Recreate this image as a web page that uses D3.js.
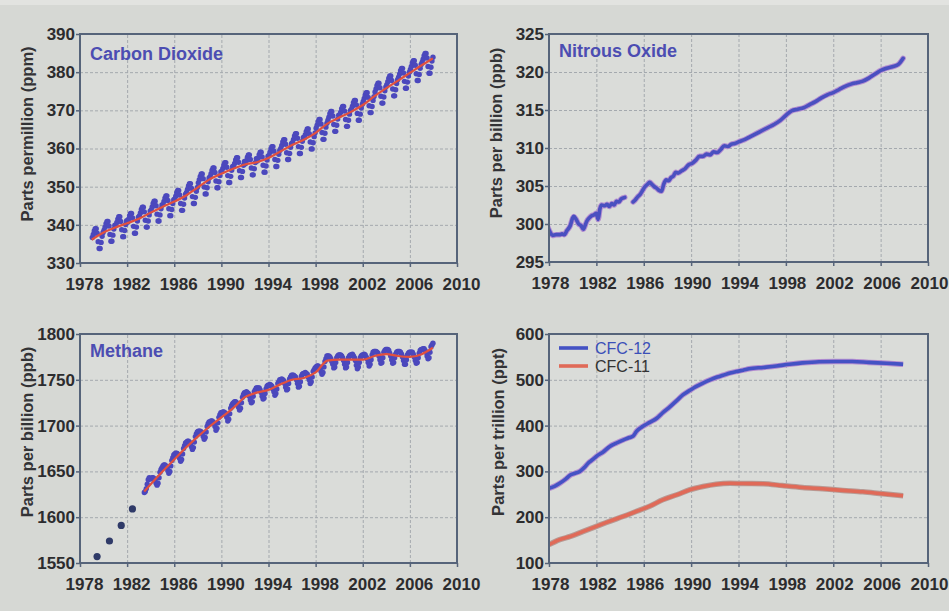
<!DOCTYPE html>
<html><head><meta charset="utf-8">
<script src="https://cdn.jsdelivr.net/npm/d3@7"></script>
<style>
html,body{margin:0;padding:0;background:#d6d8d4;}
svg{display:block;}
text{font-family:"Liberation Sans",Arial,Helvetica,sans-serif;}
.grid line{stroke:#a4a9ae;stroke-width:1;stroke-dasharray:3 2;}
.grid .domain{display:none;}
.axis .domain{display:none;}
.axis line{stroke:#56647a;stroke-width:1.5;}
.axis text{font-size:17px;font-weight:bold;fill:#2c2c2e;}
</style></head><body>
<svg id="chart" width="949" height="611"></svg>
<script>
// ---- axis ticks ----
const xTicks = [1978, 1982, 1986, 1990, 1994, 1998, 2002, 2006, 2010];
const co2Ticks = [330, 340, 350, 360, 370, 380, 390];
const n2oTicks = [295, 300, 305, 310, 315, 320, 325];
const ch4Ticks = [1550, 1600, 1650, 1700, 1750, 1800];
const cfcTicks = [100, 200, 300, 400, 500, 600];

// ---- carbon dioxide (ppm), monthly means, Jan..Dec ----
const co2Monthly = [
 [1979, 336.7, 337.5, 338.4, 339.0, 339.0, 337.8, 335.6, 333.8, 333.8, 335.4, 337.0, 338.0],
 [1980, 338.6, 339.4, 340.3, 340.9, 340.9, 339.7, 337.5, 335.7, 335.7, 337.3, 338.9, 339.9],
 [1981, 339.8, 340.6, 341.5, 342.1, 342.1, 340.9, 338.7, 336.9, 336.9, 338.5, 340.1, 341.1],
 [1982, 340.7, 341.5, 342.4, 343.0, 343.0, 341.8, 339.6, 337.8, 337.8, 339.4, 341.0, 342.0],
 [1983, 342.3, 343.1, 344.0, 344.6, 344.6, 343.4, 341.2, 339.4, 339.4, 341.0, 342.6, 343.6],
 [1984, 343.9, 344.7, 345.6, 346.2, 346.2, 345.0, 342.8, 341.0, 341.0, 342.6, 344.2, 345.2],
 [1985, 345.3, 346.1, 347.0, 347.6, 347.6, 346.4, 344.2, 342.4, 342.4, 344.0, 345.6, 346.6],
 [1986, 346.7, 347.5, 348.4, 349.0, 349.0, 347.8, 345.6, 343.8, 343.8, 345.4, 347.0, 348.0],
 [1987, 348.5, 349.3, 350.2, 350.8, 350.8, 349.6, 347.4, 345.6, 345.6, 347.2, 348.8, 349.8],
 [1988, 351.0, 351.8, 352.7, 353.3, 353.3, 352.1, 349.9, 348.1, 348.1, 349.7, 351.3, 352.3],
 [1989, 352.6, 353.4, 354.3, 354.9, 354.9, 353.7, 351.5, 349.7, 349.7, 351.3, 352.9, 353.9],
 [1990, 354.0, 354.8, 355.7, 356.3, 356.3, 355.1, 352.9, 351.1, 351.1, 352.7, 354.3, 355.3],
 [1991, 355.3, 356.1, 357.0, 357.6, 357.6, 356.4, 354.2, 352.4, 352.4, 354.0, 355.6, 356.6],
 [1992, 356.0, 356.8, 357.7, 358.3, 358.3, 357.1, 354.9, 353.1, 353.1, 354.7, 356.3, 357.3],
 [1993, 356.7, 357.5, 358.4, 359.0, 359.0, 357.8, 355.6, 353.8, 353.8, 355.4, 357.0, 358.0],
 [1994, 358.2, 359.0, 359.9, 360.5, 360.5, 359.3, 357.1, 355.3, 355.3, 356.9, 358.5, 359.5],
 [1995, 360.0, 360.8, 361.7, 362.3, 362.3, 361.1, 358.9, 357.1, 357.1, 358.7, 360.3, 361.3],
 [1996, 361.6, 362.4, 363.3, 363.9, 363.9, 362.7, 360.5, 358.7, 358.7, 360.3, 361.9, 362.9],
 [1997, 362.8, 363.6, 364.5, 365.1, 365.1, 363.9, 361.7, 359.9, 359.9, 361.5, 363.1, 364.1],
 [1998, 365.3, 366.1, 367.0, 367.6, 367.6, 366.4, 364.2, 362.4, 362.4, 364.0, 365.6, 366.6],
 [1999, 367.4, 368.2, 369.1, 369.7, 369.7, 368.5, 366.3, 364.5, 364.5, 366.1, 367.7, 368.7],
 [2000, 368.7, 369.5, 370.4, 371.0, 371.0, 369.8, 367.6, 365.8, 365.8, 367.4, 369.0, 370.0],
 [2001, 370.3, 371.1, 372.0, 372.6, 372.6, 371.4, 369.2, 367.4, 367.4, 369.0, 370.6, 371.6],
 [2002, 372.3, 373.1, 374.0, 374.6, 374.6, 373.4, 371.2, 369.4, 369.4, 371.0, 372.6, 373.6],
 [2003, 374.8, 375.6, 376.5, 377.1, 377.1, 375.9, 373.7, 371.9, 371.9, 373.5, 375.1, 376.1],
 [2004, 376.7, 377.5, 378.4, 379.0, 379.0, 377.8, 375.6, 373.8, 373.8, 375.4, 377.0, 378.0],
 [2005, 378.7, 379.5, 380.4, 381.0, 381.0, 379.8, 377.6, 375.8, 375.8, 377.4, 379.0, 380.0],
 [2006, 380.7, 381.5, 382.4, 383.0, 383.0, 381.8, 379.6, 377.8, 377.8, 379.4, 381.0, 382.0],
 [2007, 382.6, 383.4, 384.3, 384.9, 384.9, 383.7, 381.5, 379.7, 379.7, 381.3, 382.9, 383.9]
];
// deseasonalized trend [year, ppm]
const co2Trend = [
 [1979.0, 336.1], [1980, 338.0], [1981, 339.3], [1982, 340.4], [1983, 341.6], [1984, 343.2],
 [1985, 344.7], [1986, 346.1], [1987, 347.7], [1988, 349.8], [1989, 351.9], [1990, 353.4],
 [1991, 354.7], [1992, 355.8], [1993, 356.4], [1994, 357.5], [1995, 359.2], [1996, 360.9],
 [1997, 362.3], [1998, 364.1], [1999, 366.5], [2000, 368.1], [2001, 369.6], [2002, 371.4],
 [2003, 373.7], [2004, 375.8], [2005, 377.8], [2006, 379.8], [2007, 381.8], [2007.95, 383.6]
];

// ---- nitrous oxide (ppb), [year, ppb], two measurement records ----
const n2oEarly = [
 [1977.9, 299.6], [1978.1, 298.9], [1978.3, 298.5], [1978.6, 298.6], [1978.9, 298.6], [1979.1, 298.7],
 [1979.3, 298.6], [1979.5, 299.1], [1979.8, 299.8], [1980.0, 300.8], [1980.1, 301.0], [1980.3, 300.6],
 [1980.5, 300.0], [1980.7, 299.8], [1980.9, 299.3], [1981.0, 299.6], [1981.2, 300.4], [1981.4, 300.8],
 [1981.6, 301.1], [1981.8, 301.2], [1982.0, 301.4], [1982.15, 300.6], [1982.3, 302.0], [1982.45, 302.5],
 [1982.7, 302.4], [1982.9, 302.6], [1983.1, 302.3], [1983.3, 302.7], [1983.5, 302.5], [1983.7, 303.0],
 [1983.9, 302.9], [1984.1, 303.3], [1984.4, 303.5]
];
const n2oLate = [
 [1985.1, 302.9], [1985.3, 303.2], [1985.5, 303.6], [1985.7, 303.9], [1985.9, 304.4], [1986.1, 304.9],
 [1986.3, 305.2], [1986.5, 305.5], [1986.7, 305.2], [1986.9, 304.9], [1987.1, 304.7], [1987.3, 304.4],
 [1987.5, 304.3], [1987.7, 305.3], [1987.9, 305.8], [1988.1, 305.7], [1988.3, 306.1], [1988.5, 306.3],
 [1988.7, 306.8], [1988.9, 306.7], [1989.2, 307.0], [1989.5, 307.3], [1989.8, 307.8], [1990.1, 308.0],
 [1990.4, 308.4], [1990.7, 308.9], [1991.0, 308.9], [1991.3, 309.2], [1991.6, 309.1], [1991.9, 309.5],
 [1992.2, 309.4], [1992.5, 309.8], [1992.8, 310.3], [1993.1, 310.2], [1993.4, 310.5], [1993.7, 310.6],
 [1994.0, 310.8], [1994.5, 311.1], [1995.0, 311.5], [1995.5, 311.9], [1996.0, 312.3], [1996.5, 312.7],
 [1997.0, 313.1], [1997.5, 313.6], [1998.0, 314.3], [1998.5, 314.9], [1999.0, 315.1], [1999.5, 315.3],
 [2000.0, 315.7], [2000.5, 316.1], [2001.0, 316.6], [2001.5, 317.0], [2002.0, 317.3], [2002.5, 317.7],
 [2003.0, 318.1], [2003.5, 318.4], [2004.0, 318.6], [2004.5, 318.8], [2005.0, 319.2], [2005.5, 319.7],
 [2006.0, 320.2], [2006.5, 320.5], [2007.0, 320.7], [2007.5, 321.0], [2007.9, 321.8]
];

// ---- methane (ppb) ----
const ch4Annual = [[1979.45, 1557], [1980.5, 1574], [1981.5, 1591], [1982.45, 1609]];
const ch4Monthly = [
 [1983, null, null, null, null, null, 1627, 1628, 1631, 1636, 1641, 1643, 1642],
 [1984, 1642, 1643, 1643, 1642, 1640, 1637, 1635, 1637, 1643, 1649, 1652, 1654],
 [1985, 1656, 1657, 1657, 1656, 1654, 1651, 1648, 1650, 1656, 1662, 1665, 1668],
 [1986, 1669, 1670, 1670, 1669, 1667, 1664, 1661, 1663, 1669, 1675, 1678, 1681],
 [1987, 1682, 1683, 1683, 1682, 1680, 1677, 1674, 1676, 1682, 1688, 1691, 1693],
 [1988, 1694, 1694, 1694, 1693, 1691, 1688, 1685, 1687, 1693, 1699, 1702, 1704],
 [1989, 1704, 1705, 1705, 1704, 1702, 1699, 1695, 1697, 1703, 1709, 1712, 1714],
 [1990, 1714, 1715, 1715, 1714, 1712, 1709, 1705, 1707, 1713, 1719, 1722, 1724],
 [1991, 1725, 1726, 1726, 1725, 1723, 1720, 1717, 1719, 1725, 1731, 1734, 1736],
 [1992, 1736, 1737, 1736, 1735, 1732, 1728, 1725, 1726, 1732, 1737, 1739, 1741],
 [1993, 1741, 1741, 1741, 1739, 1736, 1732, 1729, 1730, 1735, 1740, 1743, 1744],
 [1994, 1744, 1745, 1744, 1743, 1740, 1737, 1733, 1735, 1740, 1746, 1748, 1750],
 [1995, 1750, 1751, 1750, 1749, 1746, 1742, 1739, 1740, 1746, 1751, 1753, 1755],
 [1996, 1755, 1755, 1754, 1753, 1750, 1746, 1742, 1743, 1748, 1754, 1756, 1757],
 [1997, 1757, 1758, 1757, 1756, 1753, 1750, 1746, 1748, 1753, 1759, 1761, 1763],
 [1998, 1764, 1765, 1765, 1764, 1762, 1759, 1756, 1758, 1764, 1770, 1773, 1776],
 [1999, 1776, 1776, 1775, 1773, 1770, 1767, 1763, 1764, 1769, 1774, 1776, 1777],
 [2000, 1777, 1777, 1776, 1774, 1771, 1767, 1763, 1764, 1769, 1774, 1776, 1777],
 [2001, 1777, 1778, 1776, 1774, 1771, 1766, 1762, 1764, 1769, 1774, 1776, 1777],
 [2002, 1777, 1778, 1777, 1775, 1773, 1769, 1765, 1767, 1772, 1777, 1780, 1781],
 [2003, 1781, 1781, 1780, 1779, 1776, 1772, 1768, 1769, 1774, 1780, 1782, 1783],
 [2004, 1783, 1783, 1782, 1779, 1776, 1772, 1768, 1769, 1774, 1778, 1780, 1781],
 [2005, 1781, 1781, 1780, 1778, 1775, 1771, 1767, 1767, 1772, 1777, 1779, 1780],
 [2006, 1780, 1780, 1780, 1778, 1775, 1771, 1768, 1769, 1774, 1779, 1782, 1783],
 [2007, 1783, 1784, 1784, 1782, 1780, 1776, 1773, 1774, 1780, 1786, 1788, 1790]
];
const ch4Trend = [
 [1983.45, 1628], [1984, 1636], [1985, 1650], [1986, 1663], [1987, 1676], [1988, 1688],
 [1989, 1699], [1990, 1709], [1991, 1719], [1992, 1731], [1993, 1736], [1994, 1739],
 [1995, 1745], [1996, 1750], [1997, 1752], [1998, 1758], [1999, 1771], [2000, 1772],
 [2001, 1772], [2002, 1772], [2003, 1776], [2004, 1778], [2005, 1776], [2006, 1775],
 [2007, 1778], [2007.95, 1785]
];

// ---- halocarbons (ppt) ----
const cfc12 = [
 [1978.0, 263], [1978.5, 268], [1978.9, 274], [1979.4, 283], [1979.8, 292], [1980.2, 296],
 [1980.6, 300], [1981.0, 309], [1981.3, 318], [1981.7, 326], [1982.0, 333], [1982.6, 343],
 [1983.1, 354], [1983.7, 362], [1984.3, 369], [1984.8, 374], [1985.1, 377], [1985.4, 388],
 [1985.9, 398], [1986.5, 407], [1987.1, 416], [1987.6, 428], [1988.2, 441], [1988.8, 455],
 [1989.3, 467], [1989.9, 477], [1990.4, 485], [1991.0, 493], [1991.6, 500], [1992.2, 506],
 [1992.7, 510], [1993.3, 515], [1993.8, 518], [1994.4, 521], [1994.9, 524], [1996.1, 527],
 [1997.2, 530], [1998.3, 534], [1999.4, 537], [2000.8, 539.5], [2002.2, 540], [2003.6, 540],
 [2005.0, 538], [2006.5, 536], [2007.9, 534]
];
const cfc11 = [
 [1978.0, 140], [1978.9, 151], [1979.8, 158], [1980.9, 169], [1982.0, 180], [1983.1, 191],
 [1984.3, 202], [1985.4, 213], [1986.5, 224], [1987.6, 238], [1988.8, 249], [1989.9, 260],
 [1991.0, 267], [1992.1, 272], [1993.3, 274], [1994.4, 273.5], [1996.1, 273], [1997.7, 269],
 [1999.4, 265], [2001.1, 262], [2002.8, 258.5], [2004.5, 255.5], [2006.2, 251], [2007.9, 247]
];

const svg = d3.select("#chart");
svg.append("rect").attr("width", 949).attr("height", 611).attr("fill", "#d6d8d4");
svg.append("rect").attr("width", 949).attr("height", 5).attr("fill", "#e2e3e0");

// expand [year, v1..v12] rows into [time, value] points
function monthlyPoints(rows) {
  const pts = [];
  rows.forEach(r => {
    for (let m = 0; m < 12; m++) {
      if (r[m + 1] != null) pts.push([r[0] + (m + 0.5) / 12, r[m + 1]]);
    }
  });
  return pts;
}

let clipId = 0;
function panel(o) {
  const g = svg.append("g");
  const x = d3.scaleLinear().domain([1978, 2010]).range([o.x0, o.x1]);
  const y = d3.scaleLinear().domain([o.yTicks[0], o.yTicks[o.yTicks.length - 1]]).range([o.y1, o.y0]);
  const w = o.x1 - o.x0, h = o.y1 - o.y0;

  g.append("rect").attr("x", o.x0).attr("y", o.y0).attr("width", w).attr("height", h).attr("fill", "#dadcd9");

  g.append("g").attr("class", "grid").attr("transform", `translate(0,${o.y1})`)
    .call(d3.axisBottom(x).tickValues(xTicks).tickSize(-h).tickFormat(""));
  g.append("g").attr("class", "grid").attr("transform", `translate(${o.x0},0)`)
    .call(d3.axisLeft(y).tickValues(o.yTicks).tickSize(-w).tickFormat(""));

  const id = "clip" + (clipId++);
  g.append("clipPath").attr("id", id).append("rect")
    .attr("x", o.x0).attr("y", o.y0).attr("width", w).attr("height", h);
  const data = g.append("g").attr("clip-path", `url(#${id})`);

  g.append("rect").attr("x", o.x0).attr("y", o.y0).attr("width", w).attr("height", h)
    .attr("fill", "none").attr("stroke", "#56647a").attr("stroke-width", 2);

  const xa = g.append("g").attr("class", "axis").attr("transform", `translate(0,${o.y1})`)
    .call(d3.axisBottom(x).tickValues(xTicks).tickFormat(d3.format("d")).tickSize(4).tickPadding(11));
  xa.selectAll("text").attr("dx", o.labelShift);
  g.append("g").attr("class", "axis").attr("transform", `translate(${o.x0},0)`)
    .call(d3.axisLeft(y).tickValues(o.yTicks).tickFormat(d3.format("d")).tickSize(4).tickPadding(1));

  g.append("text")
    .attr("transform", `translate(${o.ylabX},${o.ylabY}) rotate(-90)`)
    .attr("text-anchor", "middle")
    .attr("font-size", 16.5).attr("font-weight", "bold").attr("fill", "#333336")
    .text(o.ylabel);

  if (o.title) {
    g.append("text").attr("x", o.x0 + 10).attr("y", o.titleY)
      .attr("font-size", 18).attr("font-weight", "bold").attr("fill", "#4c4db2")
      .text(o.title);
  }
  return { x, y, data, g };
}

const line = (p) => d3.line().x(d => p.x(d[0])).y(d => p.y(d[1])).curve(d3.curveMonotoneX);

// Carbon dioxide
const pCO2 = panel({ x0: 80, x1: 457, y0: 34, y1: 263, yTicks: co2Ticks, labelShift: 4,
  ylabel: "Parts permillion (ppm)", ylabX: 33, ylabY: 134, title: "Carbon Dioxide", titleY: 60 });
pCO2.data.selectAll("circle").data(monthlyPoints(co2Monthly)).join("circle")
  .attr("cx", d => pCO2.x(d[0])).attr("cy", d => pCO2.y(d[1])).attr("r", 2.7).attr("fill", "#4b48bd");
pCO2.data.append("path").datum(co2Trend).attr("d", line(pCO2))
  .attr("fill", "none").attr("stroke", "#e2503e").attr("stroke-width", 2.2);

// Nitrous oxide
const pN2O = panel({ x0: 549, x1: 928, y0: 34, y1: 262, yTicks: n2oTicks, labelShift: 1,
  ylabel: "Parts per billion (ppb)", ylabX: 502, ylabY: 133, title: "Nitrous Oxide", titleY: 57 });
[n2oEarly, n2oLate].forEach(seg => {
  pN2O.data.append("path").datum(seg).attr("d", line(pN2O))
    .attr("fill", "none").attr("stroke", "#b48ed0").attr("stroke-width", 5.5).attr("stroke-linecap", "round");
  pN2O.data.append("path").datum(seg).attr("d", line(pN2O))
    .attr("fill", "none").attr("stroke", "#4a50c0").attr("stroke-width", 3.6).attr("stroke-linecap", "round");
});

// Methane
const pCH4 = panel({ x0: 80, x1: 457, y0: 334, y1: 563, yTicks: ch4Ticks, labelShift: 4,
  ylabel: "Parts per billion (ppb)", ylabX: 33, ylabY: 432, title: "Methane", titleY: 357 });
pCH4.data.selectAll("circle.m").data(monthlyPoints(ch4Monthly)).join("circle")
  .attr("class", "m")
  .attr("cx", d => pCH4.x(d[0])).attr("cy", d => pCH4.y(d[1])).attr("r", 2.7).attr("fill", "#4b48bd");
pCH4.data.selectAll("circle.a").data(ch4Annual).join("circle")
  .attr("class", "a")
  .attr("cx", d => pCH4.x(d[0])).attr("cy", d => pCH4.y(d[1])).attr("r", 3.6).attr("fill", "#2f3a68");
pCH4.data.append("path").datum(ch4Trend).attr("d", line(pCH4))
  .attr("fill", "none").attr("stroke", "#e2503e").attr("stroke-width", 2.2);

// Halocarbons
const pCFC = panel({ x0: 549, x1: 928, y0: 334, y1: 563, yTicks: cfcTicks, labelShift: 1,
  ylabel: "Parts per trillion (ppt)", ylabX: 504, ylabY: 432 });
pCFC.data.append("path").datum(cfc12).attr("d", line(pCFC))
  .attr("fill", "none").attr("stroke", "#b48ed0").attr("stroke-width", 5.5);
pCFC.data.append("path").datum(cfc12).attr("d", line(pCFC))
  .attr("fill", "none").attr("stroke", "#4452c4").attr("stroke-width", 3.6);
pCFC.data.append("path").datum(cfc11).attr("d", line(pCFC))
  .attr("fill", "none").attr("stroke", "#b89a94").attr("stroke-width", 5.5);
pCFC.data.append("path").datum(cfc11).attr("d", line(pCFC))
  .attr("fill", "none").attr("stroke", "#e06a58").attr("stroke-width", 3.6);

// legend
const legend = [
  { name: "CFC-12", color: "#4452c4", text: "#3a4fb8", y: 348 },
  { name: "CFC-11", color: "#e06a58", text: "#333333", y: 366 }
];
const lg = pCFC.g.append("g");
legend.forEach(d => {
  lg.append("line").attr("x1", 559).attr("x2", 588).attr("y1", d.y).attr("y2", d.y)
    .attr("stroke", d.color).attr("stroke-width", 3.6);
  lg.append("text").attr("x", 595).attr("y", d.y + 6).attr("font-size", 16).attr("fill", d.text).text(d.name);
});
</script>
</body></html>
